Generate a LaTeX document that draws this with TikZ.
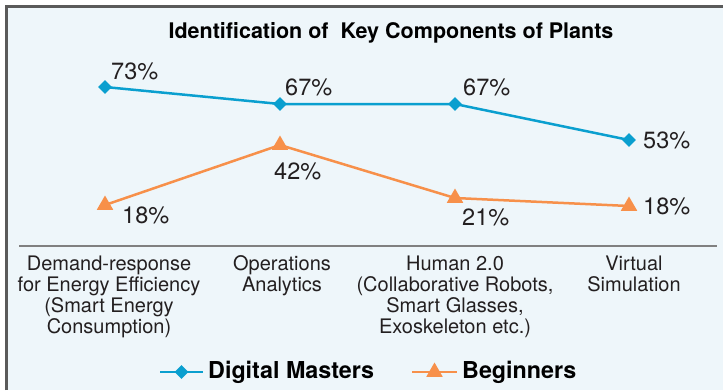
\documentclass[tikz,border=0pt]{standalone}
\usepackage{fontspec}
\setmainfont{TeX Gyre Heros}
\usetikzlibrary{shapes.geometric}
\definecolor{bgc}{HTML}{EEF6FA}
\definecolor{framec}{HTML}{5A5A5A}
\definecolor{bluec}{HTML}{0A9FCF}
\definecolor{orangec}{HTML}{F7904A}
\definecolor{axisc}{HTML}{808080}
\definecolor{txtc}{HTML}{231F20}
\begin{document}
\begin{tikzpicture}[x=1bp,y=-1bp,
 pct/.style={anchor=base west,inner sep=0,font=\fontsize{23.5bp}{26bp}\selectfont,text=txtc},
 cat/.style={anchor=base,inner sep=0,align=center,font=\fontsize{20bp}{21bp}\selectfont,text=txtc},
 bline/.style={draw=bluec,line width=2.5bp},
 oline/.style={draw=orangec,line width=2.5bp},
 bmark/.style={diamond,fill=bluec,inner sep=0,minimum size=14bp},
 omark/.style={regular polygon,regular polygon sides=3,fill=orangec,inner sep=0,minimum size=19bp},
 legtxt/.style={anchor=base west,inner sep=0,font=\bfseries\fontsize{23.3bp}{26bp}\selectfont,text=black}]
\useasboundingbox (0,0) rectangle (723,390);
\fill[white] (0,0) rectangle (723,390);
\fill[bgc] (6.5,6.5) rectangle (723,390);
\draw[framec,line width=2.5bp] (6.5,390) -- (6.5,6.5) -- (723,6.5);
% title
\node[anchor=base,inner sep=0,font=\bfseries\fontsize{21.5bp}{24bp}\selectfont] (title) at (391,38) {Identification of\ \ Key Components of Plants};
% axis
\coordinate (axL) at (19,245.5);
\coordinate (axR) at (717,245.5);
\draw[axisc,line width=2bp] (axL) -- (axR);
% data coordinates
\coordinate (b1) at (105,87);
\coordinate (b2) at (280,104);
\coordinate (b3) at (455,104);
\coordinate (b4) at (629,140);
\coordinate (o1) at (105,205);
\coordinate (o2) at (280,145);
\coordinate (o3) at (455,198);
\coordinate (o4) at (629,206);
\draw[bline] (b1) -- (b2) -- (b3) -- (b4);
\draw[oline] (o1) -- (o2) -- (o3) -- (o4);
\foreach \p in {b1,b2,b3,b4} \node[bmark] (m\p) at (\p) {};
\foreach \p in {o1,o2,o3,o4} \node[omark] (m\p) at (\p) {};
% value labels
\node[pct] (lb1) at (111,79) {73\%};
\node[pct] (lb2) at (285,95) {67\%};
\node[pct] (lb3) at (463,95) {67\%};
\node[pct] (lb4) at (643,148) {53\%};
\node[pct] (lo1) at (122,223) {18\%};
\node[pct] (lo2) at (274,179) {42\%};
\node[pct] (lo3) at (462,225) {21\%};
\node[pct] (lo4) at (643,214) {18\%};
% categories (base anchor = baseline of last line)
\node[cat] (c1) at (109,333) {Demand-response\\for Energy Efficiency\\(Smart Energy\\Consumption)};
\node[cat] (c2) at (282,291) {Operations\\Analytics};
\node[cat] (c3) at (455,333) {Human 2.0\\(Collaborative Robots,\\Smart Glasses,\\Exoskeleton etc.)};
\node[cat] (c4) at (634,291) {Virtual\\Simulation};
% legend
\coordinate (lgbL) at (160,372);
\coordinate (lgbR) at (203,372);
\coordinate (lgbM) at (181.5,372);
\draw[bline] (lgbL) -- (lgbR);
\node[bmark] (lgbmark) at (lgbM) {};
\node[legtxt] (lgbt) at (208,378) {Digital Masters};
\coordinate (lgoL) at (412,372);
\coordinate (lgoR) at (457,372);
\coordinate (lgoM) at (434.5,372);
\draw[oline] (lgoL) -- (lgoR);
\node[omark] (lgomark) at (lgoM) {};
\node[legtxt] (lgot) at (462,378) {Beginners};
\end{tikzpicture}
\end{document}
